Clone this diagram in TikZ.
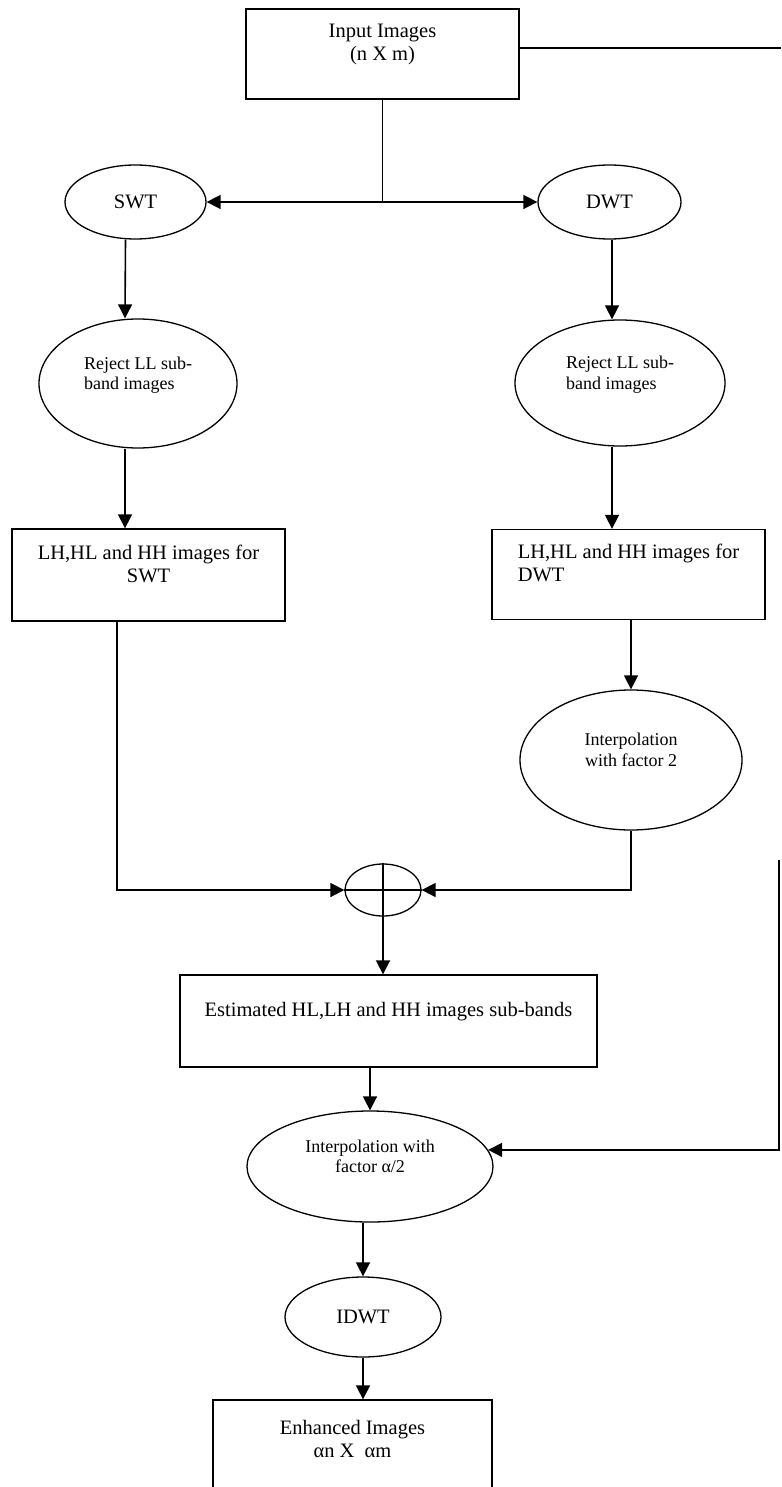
\documentclass[tikz,border=0pt]{standalone}
\usepackage{fontspec}
\setmainfont{Liberation Serif}
\usetikzlibrary{arrows.meta}
\usetikzlibrary{shapes.geometric}

\begin{document}
\begin{tikzpicture}[
x=1pt,y=-1pt,
MyBox/.style={draw,line width=1.3pt,rectangle,inner sep=0pt,align=center,font=\fontsize{20.5}{23}\selectfont},
MyEllipse/.style={draw,line width=1.3pt,ellipse,inner sep=0pt,align=center,font=\fontsize{18}{20.5}\selectfont},
BigText/.style={font=\fontsize{20.5}{23}\selectfont},
MyLine/.style={line width=1.6pt},
MyArrow/.style={line width=1.6pt,-{Triangle[length=14pt,width=14pt]}}
]
\useasboundingbox (0,0) rectangle (781,1487);
\clip (0,0) rectangle (781,1487);

% top
\node[MyBox,minimum width=273pt,minimum height=90pt] (input) at (382.5,54) {Input Images\\(n X m)\\~};
\node[MyEllipse,BigText,minimum width=141pt,minimum height=74pt] (swt) at (135.5,202) {SWT};
\node[MyEllipse,BigText,minimum width=143pt,minimum height=74pt] (dwt) at (609.5,202) {DWT};
\coordinate (junc) at (input.south |- swt.east);

% SWT branch
\node[MyEllipse,align=left,minimum width=198pt,minimum height=129pt] (rejS) at (138,383.5) {Reject LL sub-\\band images\\~};
\node[MyBox,minimum width=273pt,minimum height=92pt] (swtBox) at (148.5,575) {LH,HL and HH images for\\SWT\\~};

% DWT branch
\node[MyEllipse,align=left,minimum width=210pt,minimum height=126pt] (rejD) at (620,383) {Reject LL sub-\\band images\\~};
\node[MyBox,align=left,minimum width=273pt,minimum height=90pt] (dwtBox) at (628.5,574.5) {LH,HL and HH images for\\DWT\\~};
\node[MyEllipse,minimum width=222pt,minimum height=140pt] (interp) at (631,760) {Interpolation\\with factor 2\\~};

% fusion
\node[MyEllipse,minimum width=76pt,minimum height=52pt] (sum) at (383,890) {};
\node[MyBox,minimum width=417pt,minimum height=92pt] (est) at (388.5,1021) {Estimated HL,LH and HH images sub-bands\\~};
\node[MyEllipse,minimum width=246pt,minimum height=111pt] (interpA) at (370,1166.5) {Interpolation with\\factor α/2\\~};
\node[MyEllipse,BigText,minimum width=156pt,minimum height=80pt] (idwt) at (363,1317) {IDWT};
\node[MyBox,minimum width=279pt,minimum height=100pt] (enh) at (352.5,1450) {Enhanced Images\\αn X~ αm\\~};

\coordinate (edgeTop) at (781,48);
\coordinate (edgeMid) at (779,860);

\draw[MyLine] (input.south) -- (junc);
\draw[MyArrow] (junc) -- (swt.east);
\draw[MyArrow] (junc) -- (dwt.west);

\draw[MyArrow] ([xshift=-10pt]swt.south) -- ([xshift=-13pt]rejS.north);
\draw[MyArrow] ([xshift=-13pt]rejS.south) -- ([xshift=-23.5pt]swtBox.north);
\draw[MyArrow] ([xshift=-31.5pt]swtBox.south) |- (sum.west);

\draw[MyArrow] ([xshift=2.5pt]dwt.south) -- ([xshift=-8pt]rejD.north);
\draw[MyArrow] ([xshift=-8pt]rejD.south) -- ([xshift=-8pt]rejD.south |- dwtBox.north);
\draw[MyArrow] (dwtBox.south -| interp.north) -- (interp.north);
\draw[MyArrow] (interp.south) |- (sum.east);

\draw[MyLine] (sum.north) -- (sum.south);
\draw[MyLine] (sum.west) -- (sum.east);
\draw[MyArrow] (sum.south) -- (sum.south |- est.north);
\draw[MyArrow] (interpA.north |- est.south) -- (interpA.north);
\draw[MyArrow] (idwt.north |- interpA.south) -- (idwt.north);
\draw[MyArrow] (idwt.south) -- (idwt.south |- enh.north);

\draw[MyLine] (input.east |- edgeTop) -- (edgeTop);
\draw[MyArrow] (edgeMid) -- (edgeMid |- interpA.8) -- (interpA.8);

\end{tikzpicture}
\end{document}
